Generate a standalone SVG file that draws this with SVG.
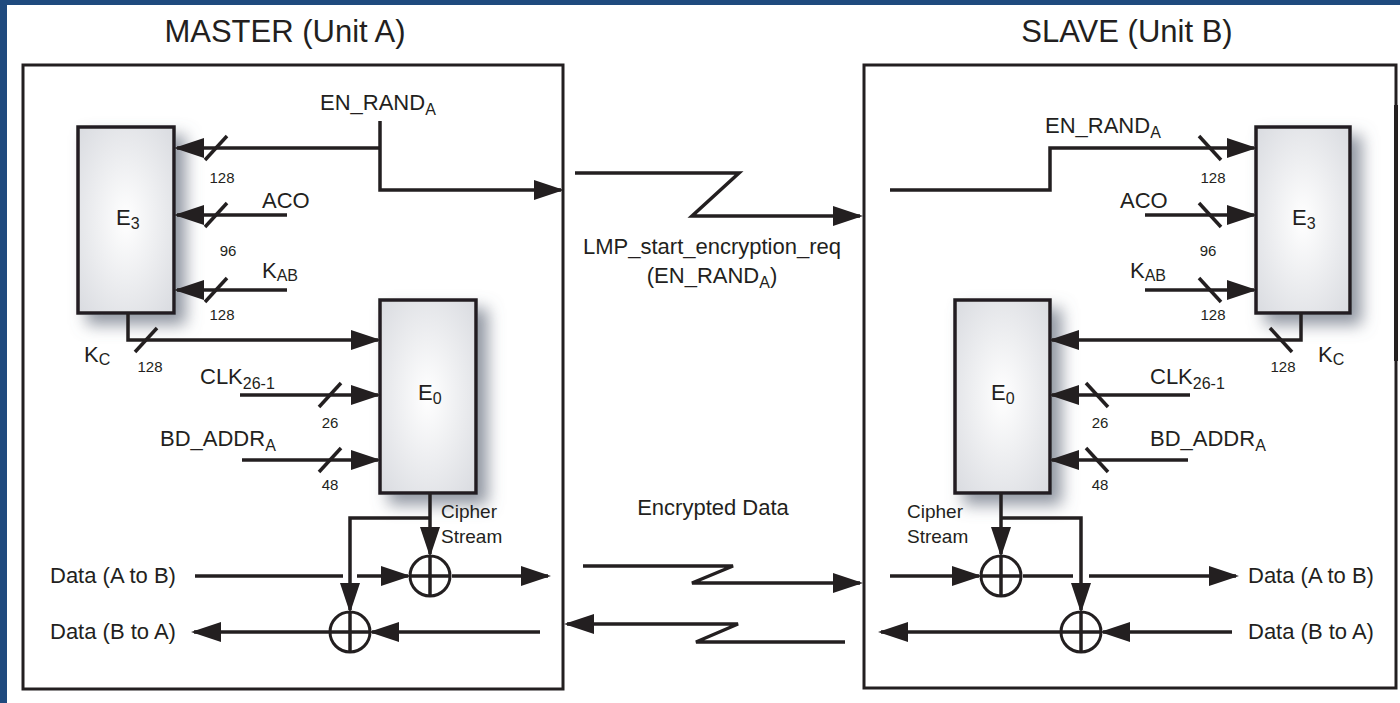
<svg xmlns="http://www.w3.org/2000/svg" width="1400" height="703" viewBox="0 0 1400 703">
<defs>
<style>
.t{font-family:"Liberation Sans",Arial,sans-serif;fill:#231f20}
.big{font-size:31px}
.lbl{font-size:22px}
.num{font-size:15px}
.sub{font-size:16px}
.cs{font-size:19px}
.ln{stroke:#231f20;stroke-width:3.5;fill:none}
.sl{stroke:#231f20;stroke-width:3.5}
.box{stroke:#231f20;stroke-width:3;fill:none}
.blk{fill:url(#g);stroke:#231f20;stroke-width:3.5}
.xor{fill:#fff;stroke:#231f20;stroke-width:3}
</style>
<radialGradient id="g" cx="0.5" cy="0.5" r="0.7">
<stop offset="0" stop-color="#ffffff"/>
<stop offset="1" stop-color="#d9dbe0"/>
</radialGradient>
<filter id="sh" x="-30%" y="-20%" width="180%" height="150%">
<feGaussianBlur in="SourceAlpha" stdDeviation="8"/>
<feOffset dx="10" dy="10" result="b"/>
<feFlood flood-color="#6c7483" flood-opacity="0.75"/>
<feComposite in2="b" operator="in"/>
<feMerge><feMergeNode/><feMergeNode in="SourceGraphic"/></feMerge>
</filter>
<marker id="ar" markerUnits="userSpaceOnUse" markerWidth="30" markerHeight="20" refX="27" refY="10" orient="auto">
<path d="M0,0 L30,10 L0,20 z" fill="#231f20"/>
</marker>
</defs>
<rect width="1400" height="703" fill="#ffffff"/>
<rect x="0" y="0" width="1400" height="5" fill="#1f4a7e"/>
<rect x="0" y="0" width="7" height="703" fill="#1f4a7e"/>

<text class="t big" x="285" y="42" text-anchor="middle">MASTER (Unit A)</text>
<text class="t big" x="1127" y="42" text-anchor="middle">SLAVE (Unit B)</text>

<g id="unitA">
<rect class="box" x="23" y="65" width="540" height="624"/>
</g>
<g id="unitB">
<rect class="box" x="864" y="65" width="532" height="623"/>
<rect x="1394" y="105" width="4" height="256" fill="#231f20"/>
</g>

<g id="A_E3"><rect class="blk" x="78" y="127" width="96" height="186" filter="url(#sh)"/>
<text class="t lbl" x="116" y="225">E<tspan class="sub" dy="4">3</tspan></text></g>
<g id="A_E0"><rect class="blk" x="380" y="300" width="96" height="193" filter="url(#sh)"/>
<text class="t lbl" x="418" y="400">E<tspan class="sub" dy="4">0</tspan></text></g>
<g id="B_E3"><rect class="blk" x="1256" y="127" width="94" height="186" filter="url(#sh)"/>
<text class="t lbl" x="1292" y="225">E<tspan class="sub" dy="4">3</tspan></text></g>
<g id="B_E0"><rect class="blk" x="955" y="300" width="95" height="193" filter="url(#sh)"/>
<text class="t lbl" x="991" y="400">E<tspan class="sub" dy="4">0</tspan></text></g>

<g id="A_xor1"><circle class="xor" cx="430" cy="576" r="20"/><path class="ln" d="M430,556V596M410,576H450" stroke-width="3"/></g>
<g id="A_xor2"><circle class="xor" cx="350" cy="632" r="20"/><path class="ln" d="M350,612V652M330,632H370" stroke-width="3"/></g>
<g id="B_xor1"><circle class="xor" cx="1001" cy="576" r="20"/><path class="ln" d="M1001,556V596M981,576H1021" stroke-width="3"/></g>
<g id="B_xor2"><circle class="xor" cx="1081" cy="632" r="20"/><path class="ln" d="M1081,612V652M1061,632H1101" stroke-width="3"/></g>

<g id="labels">
<text class="t lbl" x="320" y="110">EN_RAND<tspan class="sub" dy="5">A</tspan></text>
<text class="t lbl" x="262" y="208">ACO</text>
<text class="t lbl" x="262" y="278">K<tspan class="sub" dy="3">AB</tspan></text>
<text class="t lbl" x="84" y="362">K<tspan class="sub" dy="3">C</tspan></text>
<text class="t lbl" x="200" y="384">CLK<tspan class="sub" dy="5">26-1</tspan></text>
<text class="t lbl" x="160" y="446">BD_ADDR<tspan class="sub" dy="5">A</tspan></text>
<text class="t num" x="222" y="183" text-anchor="middle">128</text>
<text class="t num" x="228" y="256" text-anchor="middle">96</text>
<text class="t num" x="222" y="320" text-anchor="middle">128</text>
<text class="t num" x="150" y="372" text-anchor="middle">128</text>
<text class="t num" x="330" y="428" text-anchor="middle">26</text>
<text class="t num" x="330" y="490" text-anchor="middle">48</text>
<text class="t cs" x="441" y="518">Cipher</text>
<text class="t cs" x="441" y="543">Stream</text>
<text class="t lbl" x="50" y="583">Data (A to B)</text>
<text class="t lbl" x="50" y="639">Data (B to A)</text>

<text class="t lbl" x="712" y="254" text-anchor="middle">LMP_start_encryption_req</text>
<text class="t lbl" x="712" y="283" text-anchor="middle">(EN_RAND<tspan class="sub" dy="5">A</tspan><tspan dy="-5">)</tspan></text>
<text class="t lbl" x="713" y="515" text-anchor="middle">Encrypted Data</text>

<text class="t lbl" x="1045" y="133">EN_RAND<tspan class="sub" dy="5">A</tspan></text>
<text class="t lbl" x="1120" y="208">ACO</text>
<text class="t lbl" x="1130" y="278">K<tspan class="sub" dy="3">AB</tspan></text>
<text class="t lbl" x="1318" y="362">K<tspan class="sub" dy="3">C</tspan></text>
<text class="t lbl" x="1150" y="384">CLK<tspan class="sub" dy="5">26-1</tspan></text>
<text class="t lbl" x="1150" y="446">BD_ADDR<tspan class="sub" dy="5">A</tspan></text>
<text class="t num" x="1213" y="183" text-anchor="middle">128</text>
<text class="t num" x="1208" y="256" text-anchor="middle">96</text>
<text class="t num" x="1213" y="320" text-anchor="middle">128</text>
<text class="t num" x="1283" y="372" text-anchor="middle">128</text>
<text class="t num" x="1100" y="428" text-anchor="middle">26</text>
<text class="t num" x="1100" y="490" text-anchor="middle">48</text>
<text class="t cs" x="907" y="518">Cipher</text>
<text class="t cs" x="907" y="543">Stream</text>
<text class="t lbl" x="1248" y="583">Data (A to B)</text>
<text class="t lbl" x="1248" y="639">Data (B to A)</text>
</g>

<g id="connectors">
<path class="ln" d="M380,121V190H561" marker-end="url(#ar)"/>
<path class="ln" d="M380,148H177" marker-end="url(#ar)"/>
<path class="ln" d="M287,215H177" marker-end="url(#ar)"/>
<path class="ln" d="M287,290H177" marker-end="url(#ar)"/>
<path class="ln" d="M128,313V340H378" marker-end="url(#ar)"/>
<path class="ln" d="M240,395H378" marker-end="url(#ar)"/>
<path class="ln" d="M242,460H378" marker-end="url(#ar)"/>
<path class="ln" d="M430,493V554" marker-end="url(#ar)"/>
<path class="ln" d="M430,518H350V610" marker-end="url(#ar)"/>
<path class="ln" d="M195,576H343"/>
<path class="ln" d="M357,576H408" marker-end="url(#ar)"/>
<path class="ln" d="M452,576H548" marker-end="url(#ar)"/>
<path class="ln" d="M540,632H372" marker-end="url(#ar)"/>
<path class="ln" d="M330,632H194" marker-end="url(#ar)"/>
<line class="sl" x1="205" y1="160" x2="227" y2="136"/>
<line class="sl" x1="205" y1="227" x2="227" y2="203"/>
<line class="sl" x1="205" y1="302" x2="227" y2="278"/>
<line class="sl" x1="135" y1="352" x2="157" y2="328"/>
<line class="sl" x1="319" y1="407" x2="341" y2="383"/>
<line class="sl" x1="319" y1="472" x2="341" y2="448"/>
<path class="ln" d="M575,173H739L692,216H860" marker-end="url(#ar)"/>
<path class="ln" d="M583,566H733L692,583H860" marker-end="url(#ar)"/>
<path class="ln" d="M845,642H696L738,624H567" marker-end="url(#ar)"/>
<path class="ln" d="M890,190H1050V148H1254" marker-end="url(#ar)"/>
<path class="ln" d="M1145,215H1254" marker-end="url(#ar)"/>
<path class="ln" d="M1145,290H1254" marker-end="url(#ar)"/>
<path class="ln" d="M1301,313V340H1052" marker-end="url(#ar)"/>
<path class="ln" d="M1190,395H1052" marker-end="url(#ar)"/>
<path class="ln" d="M1188,460H1052" marker-end="url(#ar)"/>
<path class="ln" d="M1001,493V554" marker-end="url(#ar)"/>
<path class="ln" d="M1001,518H1081V610" marker-end="url(#ar)"/>
<path class="ln" d="M890,576H979" marker-end="url(#ar)"/>
<path class="ln" d="M1023,576H1073"/>
<path class="ln" d="M1089,576H1236" marker-end="url(#ar)"/>
<path class="ln" d="M1232,632H1103" marker-end="url(#ar)"/>
<path class="ln" d="M1061,632H881" marker-end="url(#ar)"/>
<line class="sl" x1="1199" y1="136" x2="1221" y2="160"/>
<line class="sl" x1="1199" y1="203" x2="1221" y2="227"/>
<line class="sl" x1="1199" y1="278" x2="1221" y2="302"/>
<line class="sl" x1="1270" y1="328" x2="1292" y2="352"/>
<line class="sl" x1="1086" y1="383" x2="1108" y2="407"/>
<line class="sl" x1="1086" y1="448" x2="1108" y2="472"/>
</g>
</svg>
